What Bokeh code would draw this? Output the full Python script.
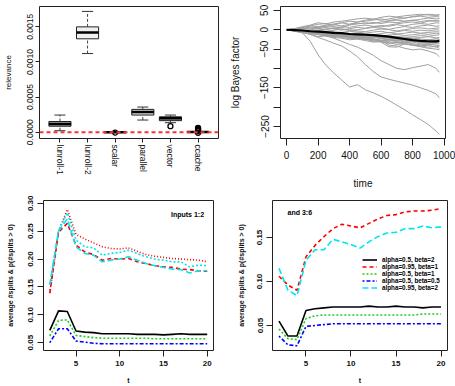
from bokeh.plotting import figure
from bokeh.layouts import column, row
from bokeh.models import (FixedTicker, Span, Label, Legend, LegendItem, Range1d,
                          PrintfTickFormatter)
from bokeh.embed import file_html
from bokeh.resources import INLINE

FONT = "Liberation Sans"

# ---------------- Panel 1: relevance boxplots ----------------
categories = ["lunroll-1", "lunroll-2", "scalar", "parallel", "vector", "ccache"]
whisk_lo = [0.000021, 0.00112, 0.0, 0.000173, 0.000135, 0.0]
box_q1 = [0.000085, 0.00133, 0.0, 0.000244, 0.000164, 0.0]
box_med = [0.000118, 0.00142, 0.0, 0.000287, 0.000198, 0.000001]
box_q3 = [0.000152, 0.00150, 0.000002, 0.000325, 0.000219, 0.000003]
whisk_hi = [0.000244, 0.00172, 0.000003, 0.000358, 0.000244, 0.000006]
outlier_cat = ["scalar", "vector", "ccache", "ccache", "ccache", "ccache", "ccache", "ccache"]
outlier_val = [-0.000006, 0.000085, 0.000062, 0.00005, 0.00004, 0.00003, 0.00002, -0.000008]
rel_ticks = [0.0, 0.0005, 0.0010, 0.0015]

# ---------------- Panel 2: log Bayes factor ----------------
time = [0, 50, 100, 150, 200, 250, 300, 350, 400, 450, 500, 550, 600, 650, 700, 750, 800, 850, 900, 950, 970]
walks = [
    [0, 3, 8, 12, 18, 15, 20, 22, 25, 28, 30, 27, 32, 35, 33, 36, 38, 40, 38, 37, 38],
    [0, 2, 5, 10, 8, 12, 15, 18, 14, 20, 22, 25, 28, 24, 27, 30, 33, 35, 32, 34, 33],
    [0, 1, 4, 2, 6, 10, 8, 5, 12, 15, 18, 16, 20, 22, 25, 22, 24, 27, 30, 28, 29],
    [0, -1, 2, 5, 3, 0, 4, 8, 6, 10, 12, 9, 7, 12, 15, 18, 20, 17, 22, 24, 22],
    [0, 1, -2, 0, 3, 6, 2, -1, 3, 6, 4, 8, 11, 9, 13, 10, 14, 16, 14, 18, 17],
    [0, -2, 0, -3, -1, 2, 5, 1, -2, 0, 3, 6, 4, 1, 5, 8, 6, 10, 12, 9, 10],
    [0, 0, -3, -5, -2, -4, -1, 2, 0, -3, -5, -1, 2, 0, -3, 0, 3, 5, 2, 4, 5],
    [0, -1, -4, -3, -6, -8, -5, -7, -4, -6, -9, -6, -4, -8, -5, -2, -4, -1, -3, 0, -1],
    [0, -2, -3, -6, -8, -5, -9, -12, -10, -8, -11, -13, -10, -7, -11, -9, -6, -9, -7, -5, -6],
    [0, -1, -2, -4, -7, -10, -8, -11, -14, -12, -15, -13, -16, -14, -12, -15, -13, -10, -12, -9, -10],
    [0, -2, -5, -3, -6, -9, -12, -10, -13, -16, -14, -17, -15, -19, -17, -20, -18, -15, -17, -14, -13],
    [0, -3, -4, -7, -9, -7, -11, -14, -12, -15, -18, -16, -19, -17, -21, -19, -22, -20, -18, -21, -20],
    [0, -1, -5, -8, -6, -10, -13, -11, -15, -17, -15, -19, -22, -20, -23, -25, -22, -24, -26, -23, -24],
    [0, -2, -4, -6, -10, -12, -10, -13, -16, -14, -18, -21, -19, -22, -25, -23, -26, -28, -25, -27, -26],
    [0, -3, -6, -9, -7, -11, -14, -17, -15, -19, -21, -18, -22, -25, -23, -27, -29, -27, -30, -28, -29],
    [0, -2, -6, -5, -9, -12, -15, -13, -17, -20, -22, -25, -23, -26, -29, -27, -30, -32, -31, -33, -32],
    [0, -1, -3, -7, -10, -8, -12, -16, -19, -17, -21, -24, -27, -25, -28, -31, -29, -33, -35, -33, -34],
    [0, -3, -7, -10, -13, -16, -14, -18, -21, -24, -22, -26, -29, -27, -31, -34, -32, -36, -38, -36, -37],
    [0, -2, -5, -9, -12, -15, -18, -16, -20, -23, -26, -24, -28, -31, -34, -32, -36, -39, -37, -40, -41],
    [0, -4, -8, -11, -9, -13, -17, -20, -23, -21, -25, -28, -31, -35, -33, -37, -40, -42, -45, -43, -44],
    [0, -1, -4, -6, -9, -12, -15, -14, -18, -21, -24, -30, -32, -44, -45, -36, -38, -42, -40, -45, -48],
    [0, -2, -6, -12, -18, -16, -20, -22, -26, -24, -28, -32, -30, -34, -38, -36, -40, -44, -48, -50, -52],
    [0, 2, 6, 10, 14, 16, 12, 18, 22, 20, 25, 28, 24, 28, 32, 30, 34, 37, 40, 38, 39],
    [0, 1, 3, 7, 5, 9, 13, 10, 14, 17, 15, 19, 16, 20, 18, 22, 25, 21, 24, 22, 23],
    [0, -2, -4, -2, -6, -9, -7, -12, -15, -13, -20, -24, -28, -40, -42, -48, -52, -50, -55, -62, -70],
    [0, -1, -3, -6, -10, -16, -22, -30, -38, -45, -55, -66, -80, -90, -100, -103, -98, -94, -90, -100, -110],
    [0, -2, -5, -12, -20, -27, -35, -42, -55, -70, -90, -108, -122, -128, -133, -138, -143, -150, -157, -166, -176],
    [0, -3, -8, -30, -65, -92, -112, -130, -148, -142, -155, -163, -172, -183, -195, -207, -220, -232, -245, -262, -270],
]
walk_mean = [0, -1, -2, -4, -5, -6, -8, -9, -11, -12, -13, -14, -16, -18, -21, -24, -27, -29, -30, -30, -29]
bf_yticks = [50, 0, -50, -100, -150, -200, -250]
bf_xticks = [0, 200, 400, 600, 800, 1000]

# ---------------- Panels 3/4: average #splits ----------------
t = list(range(2, 21))
# Inputs 1:2
l_red_dot = [0.139, 0.249, 0.289, 0.244, 0.236, 0.229, 0.222, 0.219, 0.218, 0.220, 0.214, 0.208, 0.205, 0.203, 0.201, 0.200, 0.199, 0.198, 0.195]
l_cyan_dot = [0.154, 0.251, 0.283, 0.234, 0.222, 0.220, 0.207, 0.210, 0.212, 0.216, 0.210, 0.204, 0.200, 0.198, 0.195, 0.195, 0.186, 0.189, 0.188]
l_red = [0.139, 0.248, 0.264, 0.225, 0.213, 0.208, 0.198, 0.201, 0.200, 0.201, 0.195, 0.192, 0.188, 0.186, 0.185, 0.182, 0.181, 0.179, 0.178]
l_cyan = [0.154, 0.250, 0.272, 0.222, 0.210, 0.207, 0.195, 0.198, 0.200, 0.204, 0.198, 0.192, 0.188, 0.185, 0.182, 0.181, 0.175, 0.179, 0.179]
l_black = [0.072, 0.107, 0.106, 0.071, 0.069, 0.068, 0.066, 0.066, 0.066, 0.066, 0.065, 0.065, 0.065, 0.064, 0.065, 0.066, 0.065, 0.065, 0.065]
l_green = [0.062, 0.090, 0.091, 0.063, 0.061, 0.059, 0.058, 0.058, 0.058, 0.058, 0.058, 0.058, 0.057, 0.057, 0.057, 0.057, 0.057, 0.057, 0.057]
l_blue = [0.050, 0.075, 0.075, 0.053, 0.051, 0.049, 0.048, 0.048, 0.048, 0.048, 0.048, 0.048, 0.048, 0.048, 0.048, 0.048, 0.048, 0.048, 0.048]
# Inputs 3:6
r_black = [0.055, 0.038, 0.038, 0.067, 0.069, 0.070, 0.071, 0.071, 0.071, 0.071, 0.072, 0.071, 0.071, 0.072, 0.071, 0.071, 0.070, 0.071, 0.071]
r_red = [0.106, 0.096, 0.090, 0.128, 0.141, 0.151, 0.160, 0.165, 0.163, 0.161, 0.166, 0.171, 0.175, 0.176, 0.179, 0.180, 0.180, 0.181, 0.183]
r_green = [0.046, 0.035, 0.034, 0.058, 0.061, 0.062, 0.062, 0.062, 0.062, 0.062, 0.062, 0.062, 0.062, 0.062, 0.062, 0.062, 0.063, 0.063, 0.063]
r_blue = [0.038, 0.028, 0.027, 0.049, 0.050, 0.051, 0.052, 0.052, 0.052, 0.052, 0.052, 0.052, 0.052, 0.052, 0.052, 0.052, 0.052, 0.052, 0.052]
r_cyan = [0.115, 0.090, 0.084, 0.124, 0.136, 0.136, 0.148, 0.145, 0.142, 0.138, 0.145, 0.151, 0.155, 0.156, 0.160, 0.160, 0.163, 0.161, 0.162]
legend_labels = ["alpha=0.5, beta=2", "alpha=0.95, beta=1", "alpha=0.5, beta=1",
                 "alpha=0.5, beta=0.5", "alpha=0.95, beta=2"]
t_ticks = [5, 10, 15, 20]

BOX_COLORS = ["#b0b0b0", "#efefef", "#bbbbbb", "#dcdcdc", "#a8a8a8", "#bbbbbb"]
RED, CYAN, GREEN, BLUE = "#ff0000", "#00e5ee", "#22cc22", "#0000ff"


def make_fig(w, h, l, r, t_, b, xr, yr):
    p = figure(width=w, height=h, min_border_left=l, min_border_right=r,
               min_border_top=t_, min_border_bottom=b, x_range=Range1d(*xr),
               y_range=Range1d(*yr), toolbar_location=None, output_backend="svg")
    p.xgrid.grid_line_color = None
    p.ygrid.grid_line_color = None
    p.outline_line_color = "#222222"
    p.outline_line_width = 1
    p.outline_line_alpha = 1
    p.background_fill_color = "white"
    p.border_fill_color = "white"
    return p


def style_axes(p, fs, lfs, tick_out, standoff, lab_standoff_x, lab_standoff_y, bold=False):
    for ax in p.axis:
        ax.axis_line_color = None
        ax.major_tick_out = tick_out
        ax.major_tick_in = 0
        ax.major_tick_line_color = "#222222"
        ax.minor_tick_line_color = None
        ax.major_label_text_font = FONT
        ax.major_label_text_font_size = fs
        ax.major_label_text_color = "#111111"
        ax.major_label_standoff = standoff
        ax.axis_label_text_font = FONT
        ax.axis_label_text_font_size = lfs
        ax.axis_label_text_font_style = "bold" if bold else "normal"
        ax.axis_label_text_color = "#111111"
        if bold:
            ax.major_label_text_font_style = "bold"
    p.xaxis.axis_label_standoff = lab_standoff_x
    p.yaxis.axis_label_standoff = lab_standoff_y
    p.yaxis.major_label_orientation = "vertical"


# ---- Panel 1 ----
p1 = make_fig(226, 193, 39, 8, 0, 45, (0.26, 6.74), (-0.00009, 0.00179))
xs = [i + 1 for i in range(len(categories))]
p1.segment(x0=xs, y0=box_q3, x1=xs, y1=whisk_hi, line_color="#444444", line_dash="3 2", line_width=1)
p1.segment(x0=xs, y0=whisk_lo, x1=xs, y1=box_q1, line_color="#444444", line_dash="3 2", line_width=1)
p1.segment(x0=[x - 0.2 for x in xs], y0=whisk_hi, x1=[x + 0.2 for x in xs], y1=whisk_hi, line_color="#333333")
p1.segment(x0=[x - 0.2 for x in xs], y0=whisk_lo, x1=[x + 0.2 for x in xs], y1=whisk_lo, line_color="#333333")
p1.vbar(x=xs, width=0.8, bottom=box_q1, top=box_q3, fill_color=BOX_COLORS, line_color="#222222", line_width=1)
p1.segment(x0=[x - 0.4 for x in xs], y0=box_med, x1=[x + 0.4 for x in xs], y1=box_med, line_color="black", line_width=2.5)
p1.scatter(x=[categories.index(c) + 1 for c in outlier_cat], y=outlier_val, size=5,
           fill_color=None, line_color="black", line_width=1.3)
p1.add_layout(Span(location=0, dimension="width", line_color="#ff3030", line_dash="4 3", line_width=2))
p1.xaxis.ticker = FixedTicker(ticks=xs)
p1.xaxis.major_label_overrides = {x: c for x, c in zip(xs, categories)}
p1.xaxis.major_label_orientation = "vertical"
p1.yaxis.ticker = FixedTicker(ticks=rel_ticks)
p1.yaxis.formatter = PrintfTickFormatter(format="%.4f")
p1.yaxis.axis_label = "relevance"
style_axes(p1, "8.5px", "8px", 4, 2, 5, 12)

# ---- Panel 2 ----
p2 = make_fig(229, 193, 49, 10, 6, 55, (-39, 1009), (-281, 60))
p2.multi_line(xs=[time] * len(walks), ys=walks, line_color="#a0a0a0", line_width=1)
p2.line(time, walk_mean, line_color="black", line_width=2.2)
p2.xaxis.ticker = FixedTicker(ticks=bf_xticks)
p2.yaxis.ticker = FixedTicker(ticks=bf_yticks)
p2.yaxis.major_label_overrides = {-100: "", -200: ""}
p2.xaxis.axis_label = "time"
p2.yaxis.axis_label = "log Bayes factor"
style_axes(p2, "10px", "10px", 7, 5, 16, 17)

# ---- Panel 3 ----
p3 = make_fig(226, 193, 43, 13, 4, 35, (1.28, 20.72), (0.036, 0.305))
lw = 1.6
p3.line(t, l_red_dot, line_color=RED, line_dash="1 2", line_width=lw)
p3.line(t, l_cyan_dot, line_color=CYAN, line_dash="2 2", line_width=lw)
p3.line(t, l_red, line_color=RED, line_dash="4 3", line_width=lw)
p3.line(t, l_cyan, line_color=CYAN, line_dash="6 3", line_width=lw)
p3.line(t, l_black, line_color="black", line_width=lw)
p3.line(t, l_green, line_color=GREEN, line_dash="2 2", line_width=lw)
p3.line(t, l_blue, line_color=BLUE, line_dash="2 2 4 2", line_width=lw)
p3.add_layout(Label(x=17.75, y=0.279, text="Inputs 1:2", text_font=FONT, text_font_size="7px",
                    text_font_style="bold", text_color="black", text_align="center",
                    text_baseline="middle"))
p3.xaxis.ticker = FixedTicker(ticks=t_ticks)
p3.yaxis.ticker = FixedTicker(ticks=[0.05, 0.10, 0.15, 0.20, 0.25, 0.30])
p3.yaxis.formatter = PrintfTickFormatter(format="%.2f")
p3.xaxis.axis_label = "t"
p3.yaxis.axis_label = "average #splits & p(#splits > 0)"
style_axes(p3, "8px", "7px", 6, 4, 8, 12, bold=True)

# ---- Panel 4 ----
p4 = make_fig(229, 193, 46, 8, 7, 36, (1.28, 20.72), (0.0216, 0.192))
rb = p4.line(t, r_black, line_color="black", line_width=lw)
rr = p4.line(t, r_red, line_color=RED, line_dash="4 3", line_width=lw)
rg = p4.line(t, r_green, line_color=GREEN, line_dash="2 2", line_width=lw)
rbl = p4.line(t, r_blue, line_color=BLUE, line_dash="2 2 4 2", line_width=lw)
rc = p4.line(t, r_cyan, line_color=CYAN, line_dash="6 3", line_width=lw)
p4.add_layout(Label(x=2.95, y=0.178, text="and 3:6", text_font=FONT, text_font_size="7px",
                    text_font_style="bold", text_color="black", text_align="left",
                    text_baseline="middle"))
legend = Legend(items=[LegendItem(label=lab, renderers=[r]) for lab, r in
                       zip(legend_labels, [rb, rr, rg, rbl, rc])],
                location=(90, 59), border_line_color=None, background_fill_alpha=0,
                padding=0, margin=0, spacing=0, glyph_width=15, glyph_height=7,
                label_height=7, label_standoff=5, label_text_font=FONT,
                label_text_font_size="6.3px", label_text_font_style="bold",
                label_text_color="black")
p4.add_layout(legend)
p4.xaxis.ticker = FixedTicker(ticks=t_ticks)
p4.yaxis.ticker = FixedTicker(ticks=[0.05, 0.10, 0.15])
p4.yaxis.formatter = PrintfTickFormatter(format="%.2f")
p4.xaxis.axis_label = "t"
p4.yaxis.axis_label = "average #splits & p(#splits > 0)"
style_axes(p4, "8px", "7px", 6, 4, 8, 10, bold=True)

layout = column(row(p1, p2), row(p3, p4))
open("out.html", "w").write(file_html(layout, INLINE))
